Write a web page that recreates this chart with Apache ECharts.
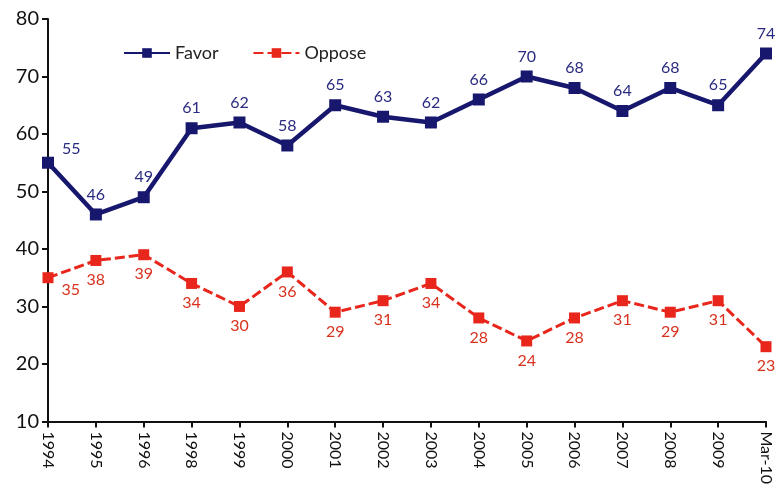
<!DOCTYPE html>
<html lang="en">
<head>
	<meta charset="UTF-8">
	<title>Favor / Oppose</title>
	<style type="text/css">
		html, body { margin: 0; padding: 0; background: #fff; }
		#a { width: 779px; height: 487px; }
	</style>
</head>
<body>
	<div id="a"></div>
	<script type="text/javascript" src="https://cdn.jsdelivr.net/npm/echarts@6/dist/echarts.min.js"></script>
	<script type="text/javascript">
		// data
		var years = ['1994','1995','1996','1998','1999','2000','2001','2002','2003','2004','2005','2006','2007','2008','2009','Mar-10'];
		var favor = [55,46,49,61,62,58,65,63,62,66,70,68,64,68,65,74];
		var oppose = [35,38,39,34,30,36,29,31,34,28,24,28,31,29,31,23];

		var navy = '#17176e';
		var red = '#e8261c';

		var favorData = favor.map(function(v, i){
			var d = { value: v };
			if (i === 0) d.label = { position: 'right', offset: [2, -14] };
			return d;
		});
		var opposeData = oppose.map(function(v, i){
			var d = { value: v };
			if (i === 0) d.label = { position: 'right', offset: [2, 12] };
			return d;
		});

		var myChart = echarts.init(document.getElementById('a'));
		var option = {
			animation: false,
			grid: { left: 48, right: 13, top: 19, bottom: 65 },
			legend: {
				left: 118, top: 39,
				itemWidth: 46, itemHeight: 12, itemGap: 34,
				textStyle: { fontSize: 18, color: '#222', fontFamily: 'Lato' },
				data: ['Favor', 'Oppose']
			},
			xAxis: {
				type: 'category',
				boundaryGap: false,
				data: years,
				axisLine: { lineStyle: { color: '#111', width: 2 } },
				axisTick: { alignWithLabel: true, length: 6, lineStyle: { color: '#111', width: 2 } },
				axisLabel: { rotate: -90, interval: 0, fontSize: 16, color: '#111', fontFamily: 'Lato', margin: 10 }
			},
			yAxis: {
				type: 'value',
				min: 10, max: 80, interval: 10,
				splitLine: { show: false },
				axisLine: { show: true, lineStyle: { color: '#111', width: 2 } },
				axisTick: { show: true, length: 6, lineStyle: { color: '#111', width: 2 } },
				axisLabel: { fontSize: 20, color: '#111', fontFamily: 'Lato', margin: 9 }
			},
			series: [
				{
					name: 'Favor',
					type: 'line',
					data: favorData,
					symbol: 'rect',
					symbolSize: 12,
					itemStyle: { color: navy },
					lineStyle: { color: navy, width: 4.5 },
					label: { show: true, position: 'top', fontSize: 16, color: '#2a2a80', fontFamily: 'Lato', distance: 6 }
				},
				{
					name: 'Oppose',
					type: 'line',
					data: opposeData,
					symbol: 'rect',
					symbolSize: 11,
					itemStyle: { color: red },
					lineStyle: { color: red, width: 3, type: [10, 4] },
					label: { show: true, position: 'bottom', fontSize: 16, color: '#d8321e', fontFamily: 'Lato', distance: 6 }
				}
			]
		};
		myChart.setOption(option);
	</script>
</body>
</html>
